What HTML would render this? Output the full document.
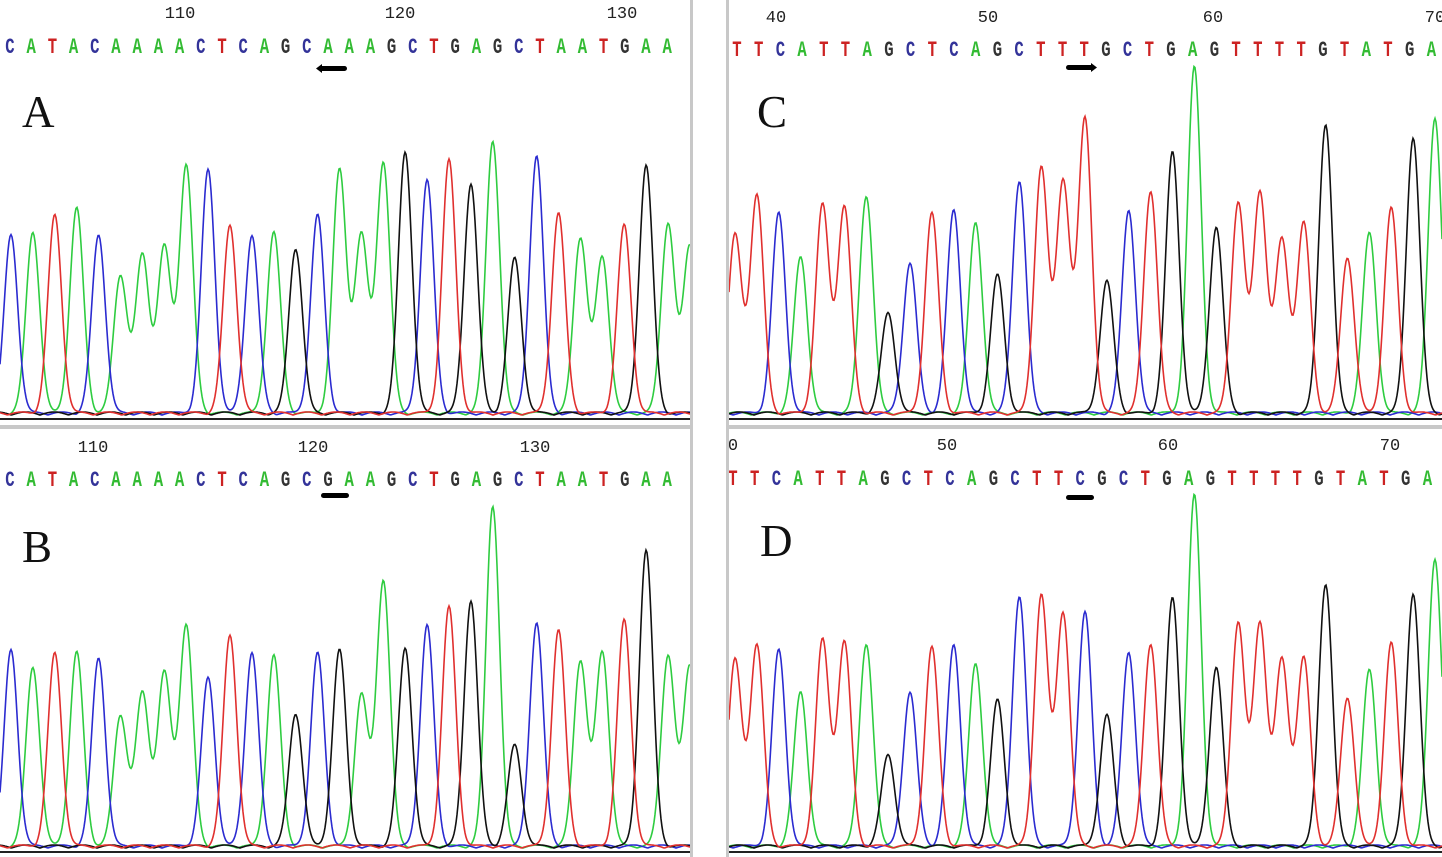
<!DOCTYPE html>
<html><head><meta charset="utf-8">
<style>
html,body{margin:0;padding:0;background:#fff;}
svg{display:block;}
</style></head>
<body>
<svg id="chart" width="1442" height="857" viewBox="0 0 1442 857" xmlns="http://www.w3.org/2000/svg">
<rect x="0" y="0" width="1442" height="857" fill="#fff"/>
<defs>
<clipPath id="clipL"><rect x="0" y="0" width="690" height="857"/></clipPath>
<clipPath id="clipR"><rect x="729" y="0" width="713" height="857"/></clipPath>
</defs>
<g id="panels"></g>
<rect x="690" y="0" width="3" height="857" fill="#c8c8c8"/>
<rect x="726" y="0" width="3" height="857" fill="#c8c8c8"/>
</svg>
<script>
// ---- data ----
const seqA = "CATACAAAACTCAGCAAAGCTGAGCTAATGAA";
const seqB = "CATACAAAACTCAGCGAAGCTGAGCTAATGAA";
const seqC = "TTCATTAGCTCAGCTTTGCTGAGTTTTGTATGA";
const seqD = "TTCATTAGCTCAGCTTCGCTGAGTTTTGTATGA";
const peakTopA = [240,237,220,213,240,280,260,252,170,175,230,240,237,253,220,175,240,167,157,185,165,188,145,263,160,218,242,262,230,170,228,250];
const peakTopB = [655,672,658,657,663,720,698,678,630,683,640,657,660,718,658,655,700,585,653,630,612,605,510,750,627,635,665,657,625,555,660,670];
const peakTopC = [240,200,218,262,210,212,200,318,268,218,215,227,280,185,172,185,123,286,215,195,157,72,232,207,197,245,228,128,262,238,213,142,122];
const peakTopD = [665,650,655,697,645,647,648,760,697,652,650,668,705,600,600,617,617,720,657,648,603,500,672,627,628,665,663,588,702,675,648,598,563];
const ticksA = ["110","120","130"];
const ticksB = ["110","120","130"];
const ticksC = ["40","50","60","70"];
const ticksD = ["0","50","60","70"];
const tickXA=[180,400,622], tickXB=[93,313,535], tickXC=[776,988,1213,1435], tickXD=[733,947,1168,1390];

const colors={A:"#2ecc40",C:"#2b2bd0",G:"#111",T:"#e0302e"};
const letterColors={A:"#33bb33",C:"#333399",G:"#333",T:"#cc2222"};

const panels=[
 {id:"a",label:"A",seq:seqA,tops:peakTopA,ticks:ticksA,tickX:tickXA,clip:"clipL",lx0:10,ldx:21.2,px0:11,pdx:21.9,base:418,tickY:18,seqY:53,markX:333,markY:69,arrow:-1,labX:22,labY:127,sepY:425,x0:0,x1:690},
 {id:"b",label:"B",seq:seqB,tops:peakTopB,ticks:ticksB,tickX:tickXB,clip:"clipL",lx0:10,ldx:21.2,px0:11,pdx:21.9,base:851,tickY:452,seqY:486,markX:335,markY:496,arrow:0,labX:22,labY:562,sepY:null,x0:0,x1:690},
 {id:"c",label:"C",seq:seqC,tops:peakTopC,ticks:ticksC,tickX:tickXC,clip:"clipR",lx0:737,ldx:21.7,px0:735,pdx:21.875,base:418,tickY:22,seqY:56,markX:1080,markY:68,arrow:1,labX:757,labY:127,sepY:425,x0:729,x1:1442},
 {id:"d",label:"D",seq:seqD,tops:peakTopD,ticks:ticksD,tickX:tickXD,clip:"clipR",lx0:733,ldx:21.7,px0:735,pdx:21.875,base:851,tickY:450,seqY:485,markX:1080,markY:498,arrow:0,labX:760,labY:556,sepY:null,x0:729,x1:1442}
];
const NS="http://www.w3.org/2000/svg";
const root=document.getElementById('panels');
function mk(tag,attrs,parent){const e=document.createElementNS(NS,tag);for(const k in attrs)e.setAttribute(k,attrs[k]);parent.appendChild(e);return e;}
const SIG=6.8;
panels.forEach(p=>{
  const g=mk('g',{'clip-path':'url(#'+p.clip+')'},root);
  
  
  const lx=i=>p.lx0+i*p.ldx, px=i=>p.px0+i*p.pdx;
  p.ticks.forEach((t,i)=>{
    const e=mk('text',{x:p.tickX[i],y:p.tickY,'text-anchor':'middle','font-family':'Liberation Mono, monospace','font-size':'17',fill:'#222'},g);
    e.textContent=t;
    
    
  });
  for(let i=0;i<p.seq.length;i++){
    const ch=p.seq[i];
    const e=mk('text',{x:lx(i),y:p.seqY,'text-anchor':'middle','font-family':'Liberation Mono, monospace','font-weight':'bold','font-size':'20',fill:letterColors[ch],transform:'translate('+lx(i)+','+p.seqY+') scale(0.78,1.12) translate('+(-lx(i))+','+(-p.seqY)+')'},g);
    e.textContent=ch;
    
    
  }
  const m=mk('rect',{x:p.markX-14,y:p.markY-3,width:28,height:5,rx:2.5,fill:'#000'},g);
  
  
  if(p.arrow!==0){
    const tip=p.markX+p.arrow*17, back=p.markX+p.arrow*11;
    const a=mk('polygon',{points:tip+','+(p.markY-0.5)+' '+back+','+(p.markY-5)+' '+back+','+(p.markY+4),fill:'#000'},g);
    
    
  }
  const L=mk('text',{x:p.labX,y:p.labY,'font-family':'Liberation Serif, serif','font-size':'45',fill:'#111'},g);
  L.textContent=p.label;
  
  
  ['A','C','G','T'].forEach(b=>{
    let d='';
    for(let x=p.x0;x<=p.x1;x+=1){
      let h=0;
      for(let i=0;i<p.seq.length&&i<p.tops.length;i++){
        if(p.seq[i]!==b)continue;
        const amp=p.base-p.tops[i];
        const dx=x-px(i);
        h+=amp*Math.exp(-dx*dx/(2*SIG*SIG));
      }
      h+=3+3*Math.abs(Math.sin(x*0.11+b.charCodeAt(0)));
      d+=(d?'L':'M')+x+','+(p.base-h).toFixed(1);
    }
    const path=mk('path',{d:d,fill:'none',stroke:colors[b],'stroke-width':'1.6'},g);
    
    
  });
  const bl=mk('line',{x1:p.x0,x2:p.x1,y1:p.base+1,y2:p.base+1,stroke:'#222','stroke-width':'2'},g);
  
  
  if(p.sepY){
    const s=mk('rect',{x:p.x0,y:p.sepY,width:p.x1-p.x0,height:4,fill:'#c8c8c8'},g);
    
    
  }
});
</script>
</body></html>
